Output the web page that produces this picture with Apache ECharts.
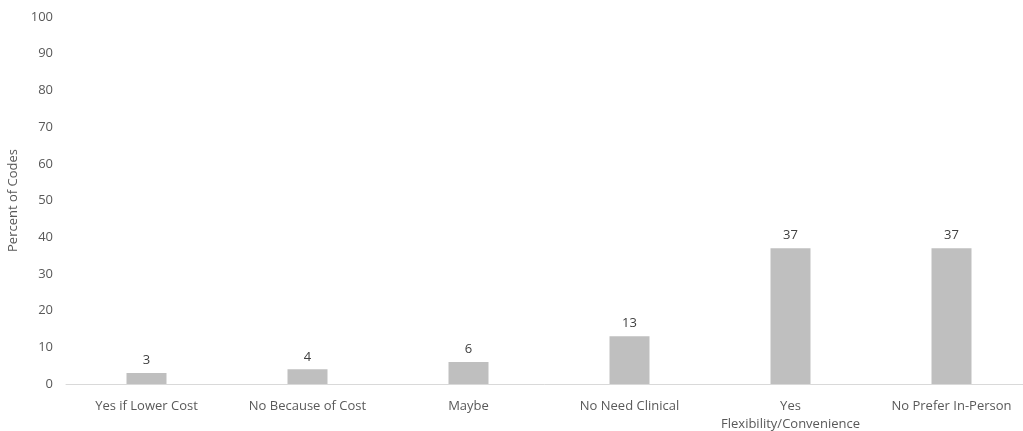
<!DOCTYPE html>
<html>
<head>
<meta charset="utf-8">
<script src="https://cdn.jsdelivr.net/npm/echarts@6/dist/echarts.min.js"></script>
<style>
  html, body { margin: 0; padding: 0; background: #ffffff; }
  #chart { width: 1023px; height: 431px; }
</style>
</head>
<body>
<div id="chart"></div>
<script>
// Share of coded responses per theme
const categories = [
  'Yes if Lower Cost',
  'No Because of Cost',
  'Maybe',
  'No Need Clinical',
  'Yes\nFlexibility/Convenience',
  'No Prefer In-Person'
];
const percentOfCodes = [3, 4, 6, 13, 37, 37];
const yTicks = { min: 0, max: 100, interval: 10 };

const textColor = '#595959';
const fontFamily = '"Open Sans", "Liberation Sans", sans-serif';

const chart = echarts.init(document.getElementById('chart'), null, { renderer: 'canvas' });
chart.setOption({
  animation: false,
  // plot area runs slightly past the right edge of the canvas
  grid: {
    left: 66, width: 966, top: 17, height: 367,
    containLabel: false,
    outerBoundsMode: 'none'
  },
  xAxis: {
    type: 'category',
    data: categories,
    axisLine: { show: true, lineStyle: { color: '#d9d9d9', width: 1 } },
    axisTick: { show: false },
    axisLabel: {
      color: textColor,
      fontFamily: fontFamily,
      fontSize: 13,
      margin: 13,
      lineHeight: 18,
      interval: 0
    }
  },
  yAxis: {
    type: 'value',
    min: yTicks.min,
    max: yTicks.max,
    interval: yTicks.interval,
    name: 'Percent of Codes',
    nameLocation: 'middle',
    nameGap: 40,
    nameTextStyle: { color: textColor, fontFamily: fontFamily, fontSize: 13 },
    axisLine: { show: false },
    axisTick: { show: false },
    splitLine: { show: false },
    axisLabel: { color: textColor, fontFamily: fontFamily, fontSize: 13, margin: 13 }
  },
  series: [{
    type: 'bar',
    data: percentOfCodes,
    barWidth: 40,
    itemStyle: { color: '#bfbfbf' },
    label: {
      show: true,
      position: 'top',
      distance: 6,
      color: '#404040',
      fontFamily: fontFamily,
      fontSize: 13
    }
  }]
});
</script>
</body>
</html>
